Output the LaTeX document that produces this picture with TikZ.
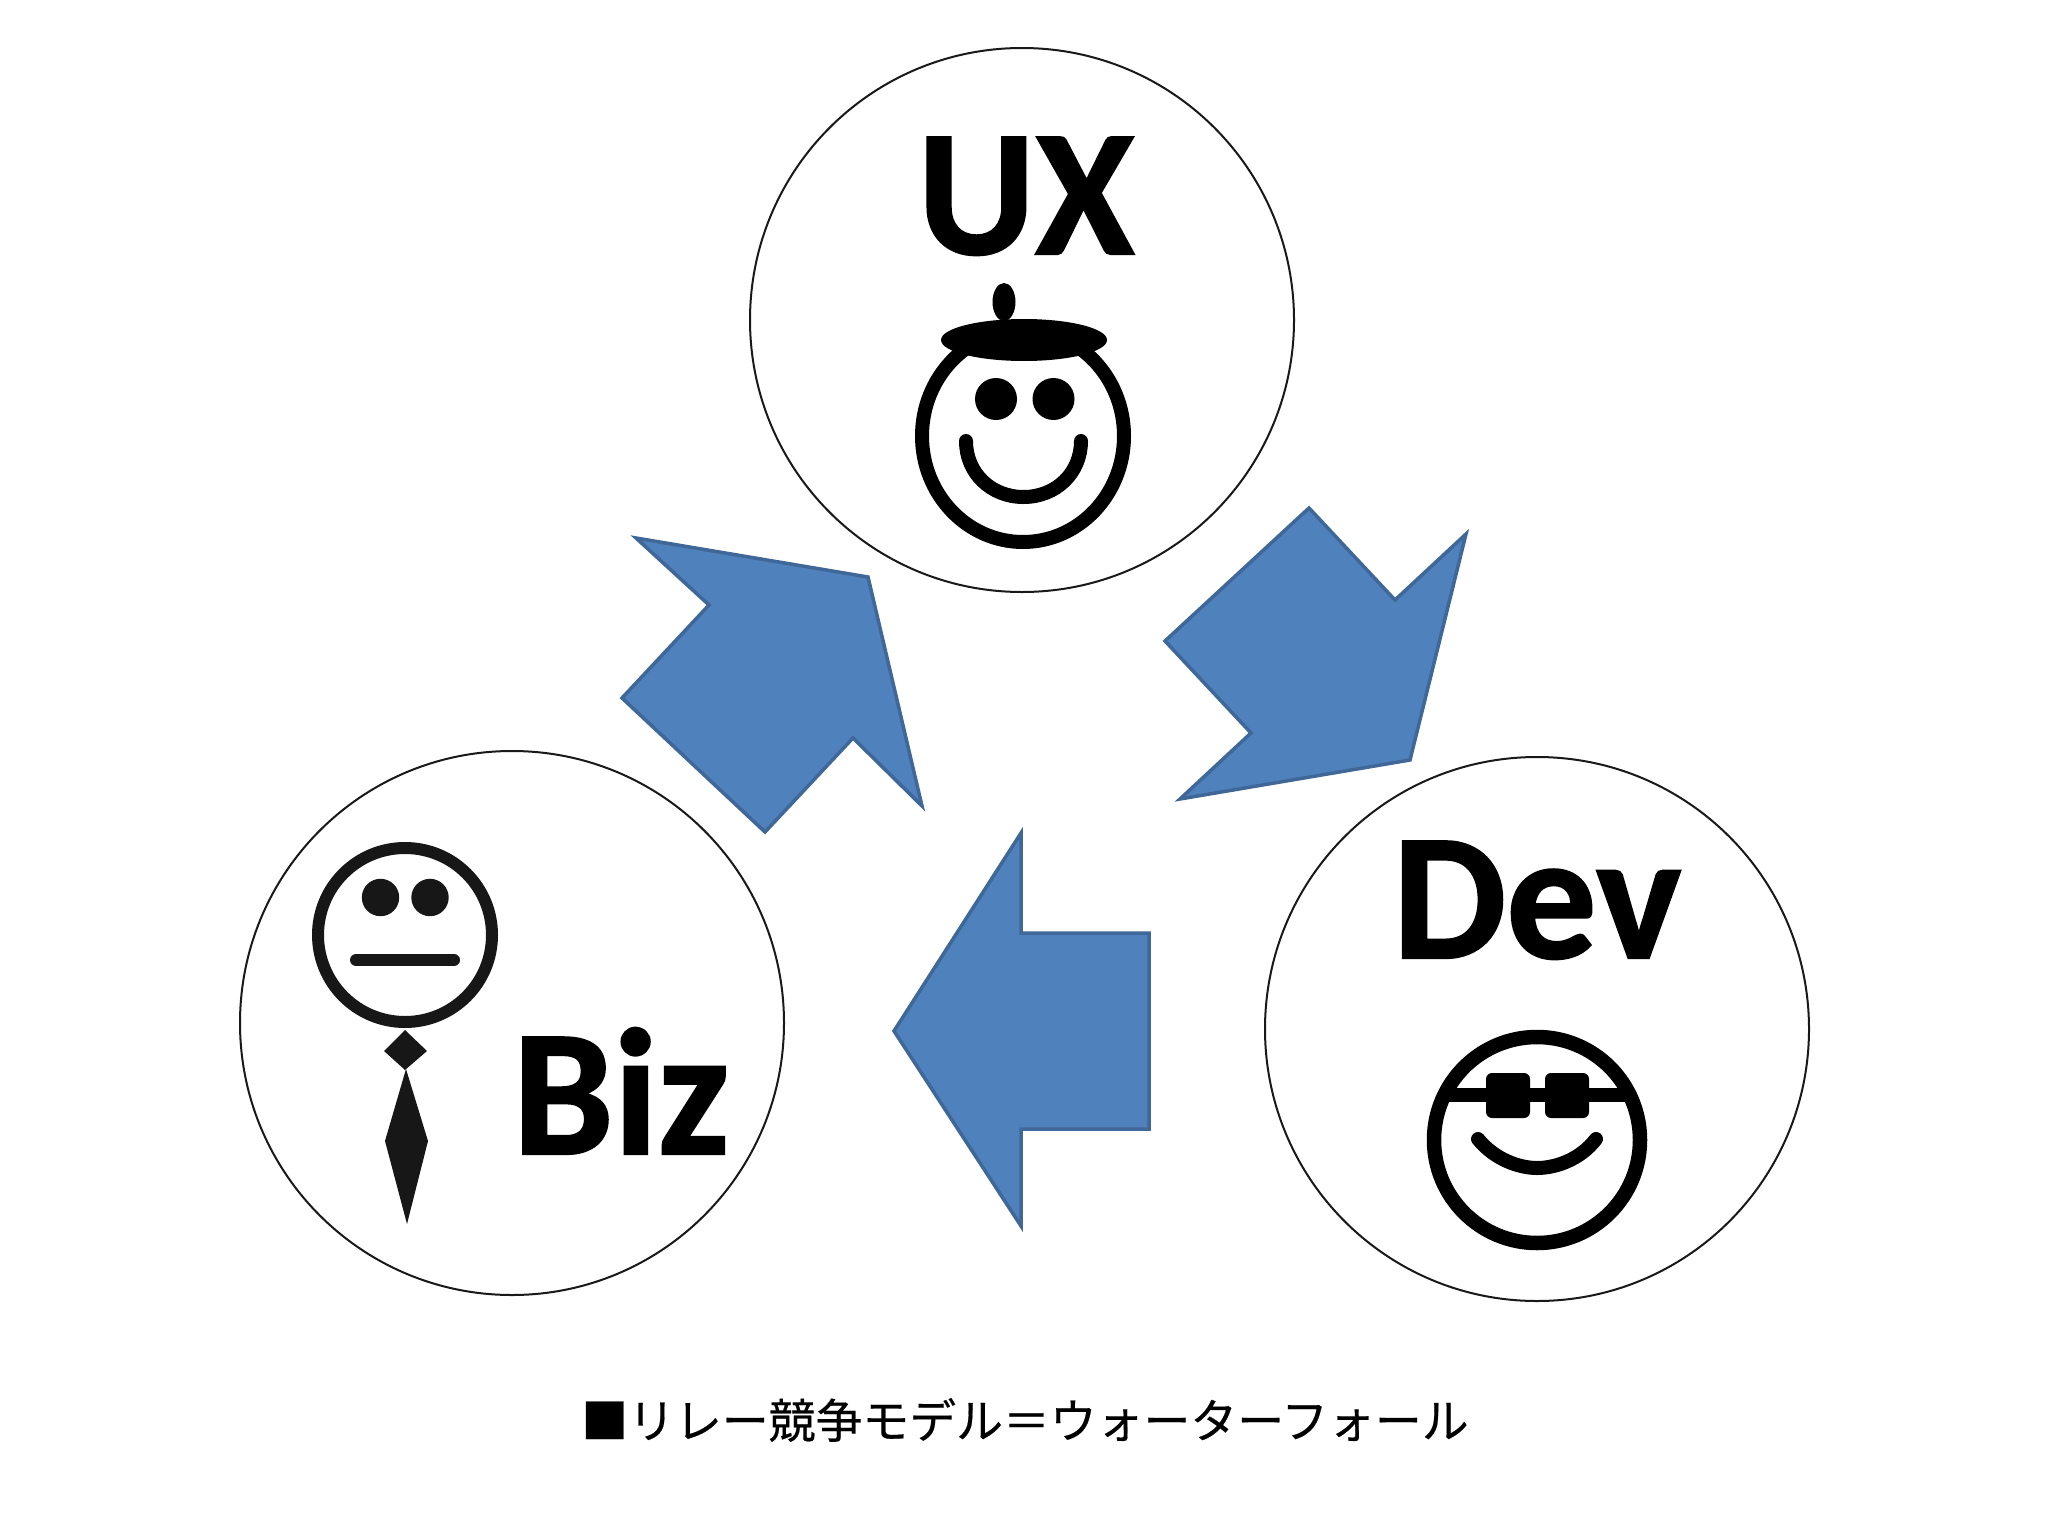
\documentclass[tikz,border=0pt]{standalone}
\usepackage{fontspec}
\setmainfont{Carlito}
\newfontfamily\rolefont[FakeBold=1.2]{Carlito Bold}
\newfontfamily\cjk[FakeBold=0.4]{Noto Sans CJK JP}
\definecolor{arrowfill}{HTML}{4F81BD}
\definecolor{arrowline}{HTML}{3F6797}
\definecolor{bizink}{HTML}{171717}
\tikzset{
  disc/.style={circle,draw=black!90,line width=2pt,fill=white,minimum size=544pt,inner sep=0pt,outer sep=0pt},
  blockarrow/.style={fill=arrowfill,draw=arrowline,line width=3.5pt,line join=miter},
  rolelabel/.style={anchor=base,inner sep=0pt,font=\fontsize{180pt}{180pt}\selectfont\rolefont},
  faceline/.style={draw=black,line width=14pt,fill=none},
  mouthline/.style={draw=black,line width=14pt,line cap=round,fill=none},
  caption/.style={inner sep=0pt,font=\fontsize{46.85pt}{50pt}\selectfont\cjk},
}
\begin{document}
\begin{tikzpicture}[x=1pt,y=-1pt]
\useasboundingbox (0,0) rectangle (2048,1536);
% discs
\node[disc] (uxdisc) at (1022,320) {};
\node[disc] (bizdisc) at (512,1023) {};
\node[disc] (devdisc) at (1537,1029) {};
% block arrows
\draw[blockarrow] (636,538) -- (868,577) -- (922,806) -- (853,738) -- (765,832) -- (622,698) -- (709,605) -- cycle;
\draw[blockarrow] (1309,508) -- (1395,600) -- (1466,534) -- (1410,760) -- (1180,799) -- (1251,733) -- (1165,641) -- cycle;
\draw[blockarrow] (1021,833) -- (1021,933) -- (1149,933) -- (1149,1129) -- (1021,1129) -- (1021,1226) -- (894,1031) -- cycle;
% labels
\node[rolelabel] (uxlabel) at (1026,254) {UX};
\node[rolelabel] (bizlabel) at (621,1154) {Biz};
\node[rolelabel] (devlabel) at (1537,958) {Dev};
% UX face
\draw[faceline] (1023,436) ellipse [x radius=101,y radius=106];
\fill (1004,302) ellipse [x radius=11.5,y radius=19];
\fill (1024,340) ellipse [x radius=83,y radius=21];
\fill (996,399) circle [radius=21];
\fill (1053.5,399) circle [radius=21];
\draw[mouthline] (966,441) .. controls (966,473) and (991,497) .. (1023.5,497) .. controls (1056,497) and (1081,473) .. (1081,441);
% Biz face
\draw[faceline,draw=bizink,line width=12pt] (405,935) circle [radius=87];
\fill[bizink] (380.5,897.5) circle [radius=18.7];
\fill[bizink] (430,897.5) circle [radius=18.7];
\draw[mouthline,draw=bizink,line width=12pt] (356,960) -- (454,960);
\fill[bizink] (405,1030) -- (427,1051) -- (405,1070) -- (384,1051) -- cycle;
\fill[bizink] (406,1069) -- (428,1141) -- (407,1224) -- (385,1141) -- cycle;
% Dev face
\draw[faceline,line width=14.5pt] (1537,1140) circle [radius=103];
\draw[black,line width=14pt] (1444,1095) -- (1630,1095);
\fill[rounded corners=6pt] (1486,1073) rectangle (1530,1118);
\fill[rounded corners=6pt] (1545,1073) rectangle (1589,1118);
\draw[mouthline] (1478,1139) .. controls (1495,1160) and (1520,1168) .. (1537,1168) .. controls (1555,1168) and (1580,1160) .. (1596,1139);
% caption
\node[caption] (captiontext) at (1025,1420) {■リレー競争モデル＝ウォーターフォール};
\end{tikzpicture}
\end{document}
